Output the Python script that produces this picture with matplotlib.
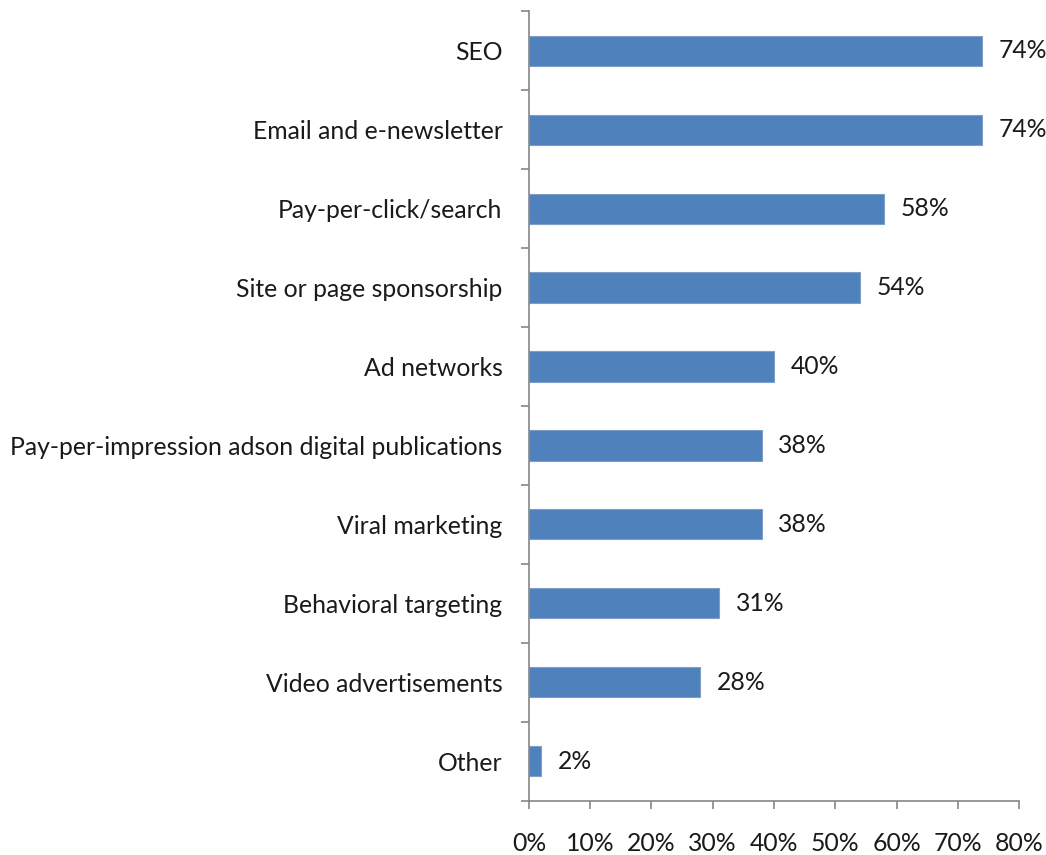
import matplotlib
matplotlib.use("agg")
from matplotlib import pyplot as plt
from matplotlib.ticker import FixedLocator, PercentFormatter
import numpy as np

# survey categories, top to bottom
categories = ["SEO", "Email and e-newsletter", "Pay-per-click/search",
              "Site or page sponsorship", "Ad networks",
              "Pay-per-impression adson digital publications",
              "Viral marketing", "Behavioral targeting",
              "Video advertisements", "Other"]
shares = [74, 74, 58, 54, 40, 38, 38, 31, 28, 2]
x_ticks = [0, 10, 20, 30, 40, 50, 60, 70, 80]

plt.rcParams['font.family'] = ['Lato', 'DejaVu Sans']
axis_gray = '#868686'
bar_blue = '#4F81BD'
txt = 17.8

fig = plt.figure(figsize=(10.46, 8.55), dpi=100)
ax = fig.add_axes([0.5057, 0.0632, 0.9742 - 0.5057, 0.9871 - 0.0632])

y = np.arange(len(categories))
bars = ax.barh(y, shares, height=0.38, color=bar_blue,
               edgecolor='#7f9fc9', linewidth=0.8)

for rect, v in zip(bars, shares):
    ax.annotate(f"{v}%", (rect.get_width(), rect.get_y() + rect.get_height() / 2),
                xytext=(12, 0), textcoords='offset points',
                va='center', ha='left', fontsize=txt, color='#1a1a1a')

ax.set_ylim(len(categories) - 0.5, -0.5)
ax.set_xlim(0, 80)
ax.set_yticks(y)
ax.set_yticklabels(categories, fontsize=txt, color='#1a1a1a')
ax.yaxis.set_minor_locator(FixedLocator(np.arange(-0.5, len(categories), 1.0)))
ax.tick_params(axis='y', which='major', length=0, pad=19)
ax.tick_params(axis='y', which='minor', length=6, width=1.2, color=axis_gray)

ax.xaxis.set_major_locator(FixedLocator(x_ticks))
ax.xaxis.set_major_formatter(PercentFormatter(decimals=0))
ax.tick_params(axis='x', which='major', length=6, width=1.2, color=axis_gray,
               labelsize=txt, labelcolor='#1a1a1a', pad=16)

for side in ['top', 'right']:
    ax.spines[side].set_visible(False)
for side in ['left', 'bottom']:
    ax.spines[side].set_color(axis_gray)
    ax.spines[side].set_linewidth(1.2)

fig.savefig("out.png", dpi=100, facecolor='white')
